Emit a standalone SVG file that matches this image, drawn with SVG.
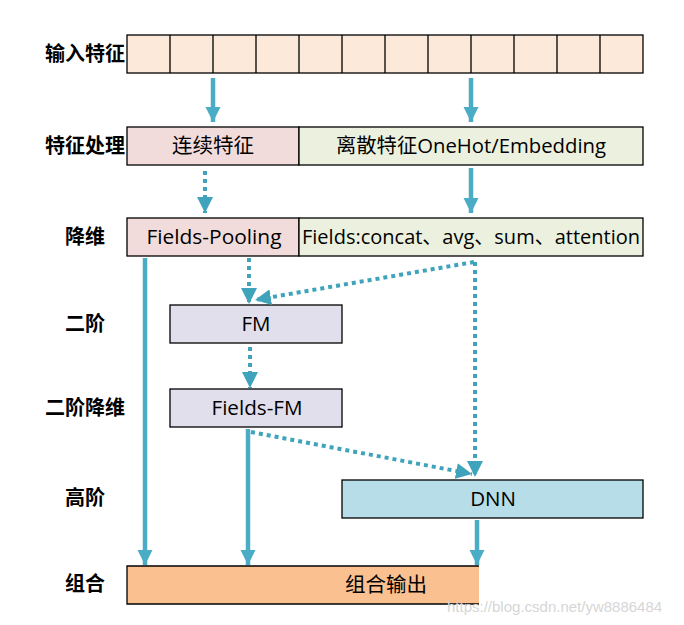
<svg xmlns="http://www.w3.org/2000/svg" width="684" height="625" viewBox="0 0 684 625">
<defs>
<marker id="ah" viewBox="0 0 10 10" refX="10" refY="5" markerWidth="3.4" markerHeight="3.4" markerUnits="strokeWidth" orient="auto">
<path d="M0,0 L10,5 L0,10 Z" fill="#4BACC6"/>
</marker>
<marker id="ahd" viewBox="0 0 10 10" refX="10" refY="5" markerWidth="4" markerHeight="4" markerUnits="strokeWidth" orient="auto">
<path d="M0,0 L10,5 L0,10 Z" fill="#3FA3BC"/>
</marker>
</defs>
<style>
.lbl{font-family:"Noto Sans CJK SC","Noto Sans",sans-serif;font-weight:bold;font-size:20px;fill:#000}
.txt{font-family:"Open Sans","Noto Sans CJK SC",sans-serif;font-size:20.5px;fill:#000}
.box{stroke:#000;stroke-width:1.3}
.solid{stroke:#4BACC6;stroke-width:4.5;fill:none;marker-end:url(#ah)}
.dot{stroke:#3FA3BC;stroke-width:4;stroke-dasharray:4 4;fill:none;marker-end:url(#ahd)}
</style>
<rect width="684" height="625" fill="#fff"/>
<g id="labels">
<text class="lbl" x="85" y="61" text-anchor="middle">输入特征</text>
<text class="lbl" x="85" y="153" text-anchor="middle">特征处理</text>
<text class="lbl" x="85" y="244" text-anchor="middle">降维</text>
<text class="lbl" x="85" y="331" text-anchor="middle">二阶</text>
<text class="lbl" x="85" y="415" text-anchor="middle">二阶降维</text>
<text class="lbl" x="85" y="505" text-anchor="middle">高阶</text>
<text class="lbl" x="85" y="591" text-anchor="middle">组合</text>
</g>
<g id="input">
<rect class="box" x="127" y="35" width="516" height="38" fill="#FCE9DA"/>
<path d="M170,35V73M213,35V73M256,35V73M299,35V73M342,35V73M385,35V73M428,35V73M471,35V73M514,35V73M557,35V73M600,35V73" stroke="#000" stroke-width="1.3"/>
</g>
<g id="continuous">
<rect class="box" x="127" y="127" width="172" height="38" fill="#F2DCDB"/>
<text class="txt" x="213" y="153" text-anchor="middle">连续特征</text>
</g>
<g id="discrete">
<rect class="box" x="299" y="127" width="344" height="38" fill="#EBF1DE"/>
<text class="txt" x="471" y="153" text-anchor="middle" textLength="270" lengthAdjust="spacingAndGlyphs">离散特征OneHot/Embedding</text>
</g>
<g id="fields-pooling">
<rect class="box" x="127" y="218" width="172" height="38" fill="#F2DCDB"/>
<text class="txt" x="214" y="244" text-anchor="middle" textLength="135" lengthAdjust="spacingAndGlyphs">Fields-Pooling</text>
</g>
<g id="fields-concat">
<rect class="box" x="299" y="218" width="344" height="38" fill="#EBF1DE"/>
<text class="txt" x="471" y="244" text-anchor="middle" textLength="338" lengthAdjust="spacingAndGlyphs">Fields:concat、avg、sum、attention</text>
</g>
<g id="fm">
<rect class="box" x="170" y="305" width="172" height="38" fill="#E1DFEC"/>
<text class="txt" x="256" y="331" text-anchor="middle">FM</text>
</g>
<g id="fields-fm">
<rect class="box" x="170" y="389" width="172" height="38" fill="#E1DFEC"/>
<text class="txt" x="257" y="415" text-anchor="middle" textLength="91" lengthAdjust="spacingAndGlyphs">Fields-FM</text>
</g>
<g id="dnn">
<rect class="box" x="342" y="480" width="301" height="38" fill="#B7DDE8"/>
<text class="txt" x="493" y="506" text-anchor="middle">DNN</text>
</g>
<g id="output">
<rect x="127" y="566" width="352" height="38" fill="#FAC090"/>
<path d="M479,566H127V604H479" fill="none" stroke="#000" stroke-width="1.3"/>
<text class="txt" x="386" y="592" text-anchor="middle">组合输出</text>
</g>
<g id="connectors">
<path class="solid" d="M213,78V122"/>
<path class="solid" d="M471,78V122"/>
<path class="dot" d="M205,171V213"/>
<path class="solid" d="M471,168V213"/>
<path class="solid" d="M145,258V565"/>
<path class="dot" d="M249,258V304"/>
<path class="dot" d="M474,262L255,300"/>
<path class="dot" d="M475,262V477"/>
<path class="dot" d="M250,347V388"/>
<path class="dot" d="M251,432L472,474"/>
<path class="solid" d="M248,429V565"/>
<path class="solid" d="M477,520V565"/>
</g>
<text x="447" y="612" font-family="Liberation Sans, sans-serif" font-size="15" fill="#d6d6d6">https://blog.csdn.net/yw8886484</text>
</svg>
